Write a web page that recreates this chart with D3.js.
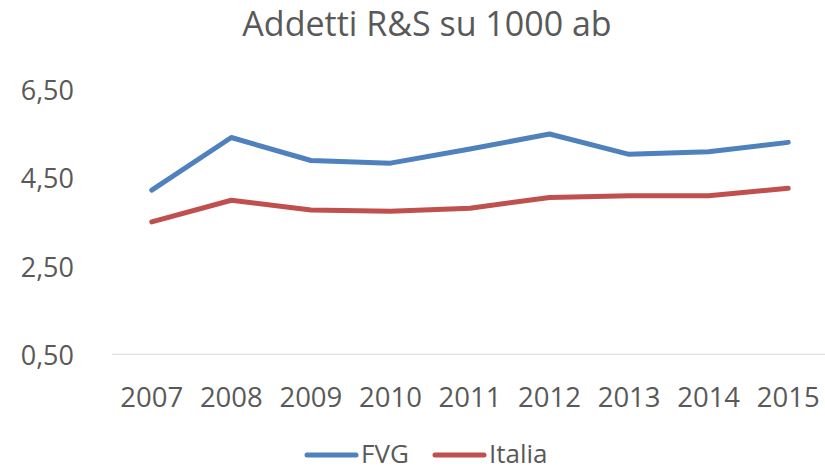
<!DOCTYPE html>
<html>
<head>
<meta charset="utf-8">
<script src="https://cdn.jsdelivr.net/npm/d3@7"></script>
<style>
  html, body { margin: 0; padding: 0; background: #fff; }
  svg text { font-family: "Open Sans", sans-serif; fill: #595959; }
</style>
</head>
<body>
<svg id="chart" width="825" height="470"></svg>
<script>
const years = ["2007","2008","2009","2010","2011","2012","2013","2014","2015"];
const fvg = [4.22, 5.41, 4.89, 4.83, 5.15, 5.49, 5.03, 5.09, 5.30];
const italia = [3.50, 3.99, 3.77, 3.74, 3.81, 4.05, 4.09, 4.09, 4.26];
const yTicks = [0.5, 2.5, 4.5, 6.5];
const seriesNames = ["FVG", "Italia"];
const seriesColors = ["#4f81bd", "#c0504d"];

const svg = d3.select("#chart");
const margin = {left: 112, right: -3, top: 89.4, bottom: 115.7};
const W = +svg.attr("width"), H = +svg.attr("height");

const x = d3.scalePoint()
    .domain(years)
    .range([margin.left, W - margin.right])
    .padding(0.5);

const y = d3.scaleLinear()
    .domain([0.5, 6.5])
    .range([H - margin.bottom, margin.top]);

// title
svg.append("text")
    .attr("x", 427)
    .attr("y", 36)
    .attr("text-anchor", "middle")
    .style("font-size", "34px")
    .text("Addetti R&S su 1000 ab");

// baseline only (no other gridlines)
svg.append("line")
    .attr("x1", margin.left).attr("x2", W)
    .attr("y1", y(0.5)).attr("y2", y(0.5))
    .attr("stroke", "#d9d9d9")
    .attr("stroke-width", 1);

// y labels
const fmt = d => d3.format(".2f")(d).replace(".", ",");
svg.append("g").selectAll("text")
    .data(yTicks)
    .enter().append("text")
    .attr("x", 74)
    .attr("y", d => y(d) + 10.5)
    .attr("text-anchor", "end")
    .style("font-size", "27px")
    .text(fmt);

// x labels
svg.append("g").selectAll("text")
    .data(years)
    .enter().append("text")
    .attr("x", d => x(d))
    .attr("y", 407)
    .attr("text-anchor", "middle")
    .style("font-size", "27.5px")
    .text(d => d);

// lines
const line = d3.line()
    .x((d, i) => x(years[i]))
    .y(d => y(d));

[fvg, italia].forEach((vals, i) => {
  svg.append("path")
      .datum(vals)
      .attr("fill", "none")
      .attr("stroke", seriesColors[i])
      .attr("stroke-width", 5)
      .attr("stroke-linejoin", "round")
      .attr("stroke-linecap", "round")
      .attr("d", line);
});

// legend (kept just inside the bottom edge)
const legendX = [307, 435];
const legend = svg.append("g").selectAll("g")
    .data(seriesNames)
    .enter().append("g")
    .attr("transform", (d, i) => `translate(${legendX[i]},455)`);

legend.append("line")
    .attr("x1", 0).attr("x2", 49)
    .attr("stroke", (d, i) => seriesColors[i])
    .attr("stroke-width", 5)
    .attr("stroke-linecap", "round");

legend.append("text")
    .attr("x", 54)
    .attr("y", 8)
    .style("font-size", "26px")
    .text(d => d);
</script>
</body>
</html>
